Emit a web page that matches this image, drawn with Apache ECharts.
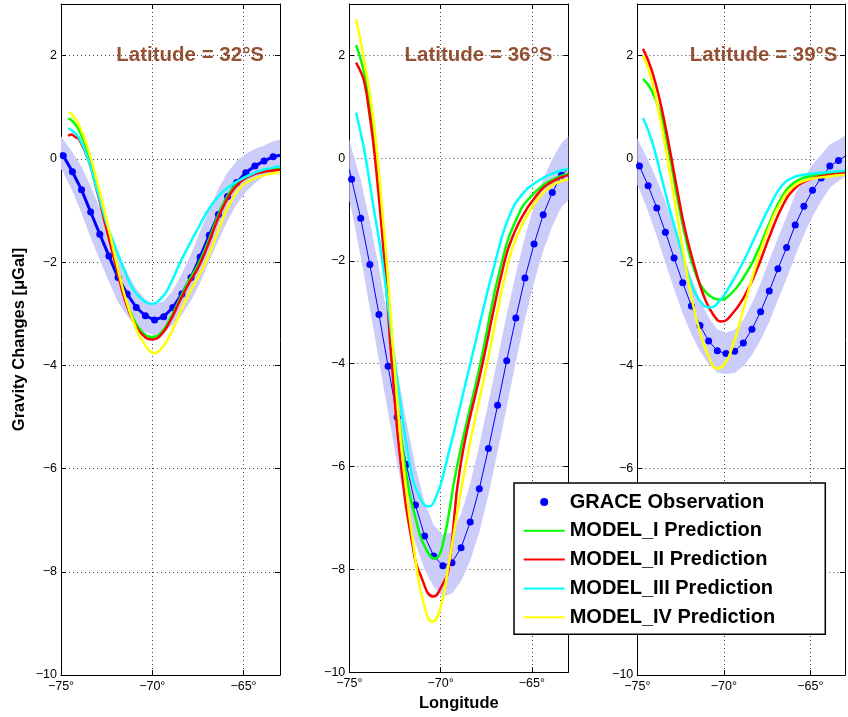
<!DOCTYPE html>
<html><head><meta charset="utf-8">
<script src="https://cdn.jsdelivr.net/npm/echarts@6/dist/echarts.min.js"></script>
<style>html,body{margin:0;padding:0;background:#fff}#c{width:848px;height:717px}</style>
</head><body><div id="c"></div>
<script>
const FONT = '"Liberation Sans", Arial, Helvetica, sans-serif';

// ---- tick labels / categories ----
const panelLatitudes = ['32°S', '36°S', '39°S'];
const xTicks = [-75, -70, -65];
const yTicks = [-10, -8, -6, -4, -2, 0, 2];
const seriesNames = ['GRACE Observation', 'MODEL_I Prediction', 'MODEL_II Prediction', 'MODEL_III Prediction', 'MODEL_IV Prediction'];
const xEdges = [-75, -63];

// ---- GRACE observations (longitude, value) ----
const obsLon = [-74.875, -74.375, -73.875, -73.375, -72.875, -72.375, -71.875, -71.375, -70.875, -70.375, -69.875, -69.375,
                -68.875, -68.375, -67.875, -67.375, -66.875, -66.375, -65.875, -65.375, -64.875, -64.375, -63.875, -63.375];
const obs32 = [0.06, -0.25, -0.60, -1.03, -1.46, -1.88, -2.30, -2.62, -2.88, -3.04, -3.12, -3.06,
               -2.88, -2.62, -2.30, -1.90, -1.48, -1.08, -0.73, -0.46, -0.27, -0.14, -0.04, 0.04];
const obs36 = [-0.41, -1.17, -2.07, -3.04, -4.05, -5.04, -5.96, -6.75, -7.35, -7.74, -7.93, -7.87,
               -7.58, -7.08, -6.43, -5.65, -4.81, -3.94, -3.11, -2.33, -1.67, -1.10, -0.67, -0.33];
const obs39 = [-0.14, -0.52, -0.95, -1.42, -1.92, -2.40, -2.85, -3.23, -3.53, -3.72, -3.77, -3.73,
               -3.57, -3.30, -2.96, -2.56, -2.13, -1.72, -1.28, -0.92, -0.61, -0.37, -0.14, -0.03];
// observation line values where it meets the left / right frame
const obsEdge32 = [0.12, 0.07];
const obsEdge36 = [-0.22, -0.20];
const obsEdge39 = [-0.05, 0.05];
// observation uncertainty (half height of the shaded band at each observation)
const sig32 = [0.32, 0.38, 0.45, 0.50, 0.50, 0.50, 0.48, 0.42, 0.36, 0.32, 0.30, 0.30,
               0.33, 0.40, 0.45, 0.50, 0.50, 0.50, 0.47, 0.42, 0.37, 0.33, 0.30, 0.30];
const sig36 = [0.60, 0.75, 0.85, 0.90, 0.90, 0.90, 0.85, 0.75, 0.65, 0.60, 0.60, 0.60,
               0.65, 0.75, 0.85, 0.90, 0.90, 0.90, 0.85, 0.80, 0.75, 0.70, 0.65, 0.62];
const sig39 = [0.45, 0.50, 0.55, 0.60, 0.60, 0.60, 0.55, 0.50, 0.45, 0.42, 0.40, 0.42,
               0.45, 0.50, 0.55, 0.60, 0.60, 0.60, 0.60, 0.55, 0.50, 0.45, 0.42, 0.40];

// ---- model predictions, [longitude, value] ----
const m1_32 = [[-74.6,0.78],[-74.4,0.74],[-74.0,0.55],[-73.5,0.08],[-73.0,-0.57],[-72.5,-1.31],[-72.0,-2.05],[-71.5,-2.70],[-71.0,-3.12],[-70.5,-3.37],[-70.0,-3.45],[-69.5,-3.36],[-69.0,-3.08],[-68.5,-2.72],[-68.0,-2.37],[-67.5,-2.06],[-67.0,-1.66],[-66.5,-1.20],[-66.0,-0.80],[-65.5,-0.53],[-65.0,-0.37],[-64.5,-0.29],[-64.0,-0.24],[-63.5,-0.21],[-63.0,-0.19]];
const m2_32 = [[-74.6,0.44],[-74.45,0.47],[-74.2,0.42],[-74.0,0.37],[-73.5,-0.02],[-73.0,-0.66],[-72.5,-1.37],[-72.0,-2.05],[-71.5,-2.73],[-71.0,-3.17],[-70.5,-3.42],[-70.0,-3.50],[-69.5,-3.40],[-69.0,-3.13],[-68.5,-2.76],[-68.0,-2.42],[-67.5,-2.12],[-67.0,-1.72],[-66.5,-1.25],[-66.0,-0.85],[-65.5,-0.57],[-65.0,-0.40],[-64.5,-0.31],[-64.0,-0.26],[-63.5,-0.23],[-63.0,-0.21]];
const m3_32 = [[-74.6,0.59],[-74.4,0.55],[-74.0,0.40],[-73.5,-0.02],[-73.0,-0.63],[-72.5,-1.25],[-72.0,-1.73],[-71.5,-2.18],[-71.0,-2.55],[-70.5,-2.74],[-70.1,-2.81],[-69.5,-2.70],[-69.0,-2.42],[-68.5,-2.03],[-68.0,-1.68],[-67.5,-1.35],[-67.0,-1.03],[-66.5,-0.78],[-66.0,-0.60],[-65.5,-0.47],[-65.0,-0.37],[-64.5,-0.29],[-64.0,-0.22],[-63.5,-0.18],[-63.0,-0.14]];
const m4_32 = [[-74.6,0.90],[-74.4,0.86],[-74.0,0.64],[-73.5,0.17],[-73.0,-0.47],[-72.5,-1.18],[-72.0,-1.95],[-71.5,-2.66],[-71.0,-3.18],[-70.5,-3.55],[-69.85,-3.76],[-69.5,-3.68],[-69.0,-3.40],[-68.5,-3.00],[-68.0,-2.62],[-67.5,-2.30],[-67.0,-1.95],[-66.5,-1.50],[-66.0,-1.05],[-65.5,-0.72],[-65.0,-0.50],[-64.5,-0.40],[-64.0,-0.33],[-63.5,-0.29],[-63.0,-0.26]];

const m1_36 = [[-74.63,2.20],[-74.4,1.95],[-74.08,1.5],[-73.86,1.0],[-73.5,0.0],[-73.02,-2.0],[-72.58,-4.0],[-71.94,-6.0],[-71.3,-7.1],[-70.8,-7.6],[-70.33,-7.79],[-69.9,-7.55],[-69.1,-6.0],[-67.82,-4.0],[-66.63,-2.0],[-65.6,-1.0],[-65.0,-0.73],[-64.5,-0.56],[-64.0,-0.44],[-63.5,-0.36],[-63.0,-0.30]];
const m2_36 = [[-74.63,1.86],[-74.4,1.7],[-74.19,1.5],[-73.95,1.0],[-73.59,0.0],[-73.08,-2.0],[-72.67,-4.0],[-72.16,-6.0],[-71.5,-7.6],[-71.11,-8.1],[-70.38,-8.53],[-69.9,-8.3],[-69.56,-8.0],[-68.92,-6.0],[-67.7,-4.0],[-66.49,-2.0],[-65.9,-1.4],[-65.3,-1.0],[-65.0,-0.85],[-64.5,-0.62],[-64.0,-0.48],[-63.5,-0.39],[-63.0,-0.33]];
const m3_36 = [[-74.63,0.89],[-74.35,0.45],[-74.1,0.0],[-73.65,-1.0],[-73.19,-2.0],[-72.49,-4.0],[-71.66,-6.0],[-71.2,-6.55],[-70.66,-6.78],[-70.2,-6.55],[-69.74,-6.0],[-68.37,-4.0],[-66.99,-2.0],[-66.08,-1.0],[-65.35,-0.63],[-65.0,-0.53],[-64.5,-0.41],[-64.0,-0.32],[-63.5,-0.25],[-63.0,-0.20]];
const m4_36 = [[-74.63,2.70],[-74.23,2.0],[-73.77,1.0],[-73.45,0.0],[-73.2,-1.0],[-72.95,-2.0],[-72.53,-4.0],[-72.03,-6.0],[-71.3,-8.0],[-70.9,-8.7],[-70.44,-9.02],[-70.0,-8.75],[-69.6,-8.0],[-68.64,-6.0],[-67.45,-4.0],[-66.27,-2.0],[-65.6,-1.35],[-65.07,-1.0],[-64.5,-0.72],[-64.0,-0.56],[-63.5,-0.46],[-63.0,-0.41]];

const m1_39 = [[-74.67,1.55],[-74.16,1.32],[-73.61,0.81],[-73.15,0.10],[-72.69,-0.75],[-72.23,-1.50],[-71.68,-2.18],[-71.13,-2.55],[-70.59,-2.70],[-70.22,-2.73],[-69.58,-2.61],[-68.84,-2.29],[-68.11,-1.84],[-67.38,-1.26],[-66.65,-0.74],[-65.93,-0.46],[-65.2,-0.35],[-64.45,-0.30],[-63.42,-0.26],[-63.0,-0.25]];
const m2_39 = [[-74.67,2.13],[-74.16,1.71],[-73.61,1.0],[-73.15,0.23],[-72.69,-0.61],[-72.23,-1.39],[-71.68,-2.10],[-71.13,-2.68],[-70.59,-3.03],[-70.13,-3.15],[-69.58,-3.03],[-68.84,-2.68],[-68.11,-2.16],[-67.38,-1.52],[-66.65,-0.94],[-65.93,-0.58],[-65.2,-0.42],[-64.45,-0.34],[-63.42,-0.29],[-63.0,-0.27]];
const m3_39 = [[-74.67,0.79],[-74.16,0.35],[-73.61,-0.35],[-73.06,-1.06],[-72.51,-1.71],[-71.96,-2.35],[-71.41,-2.74],[-70.82,-2.88],[-70.22,-2.74],[-69.58,-2.42],[-68.84,-1.97],[-68.11,-1.45],[-67.38,-0.94],[-66.65,-0.52],[-65.93,-0.35],[-65.2,-0.30],[-64.45,-0.27],[-63.42,-0.24],[-63.0,-0.23]];
const m4_39 = [[-74.67,2.0],[-74.16,1.52],[-73.7,0.81],[-73.24,-0.03],[-72.78,-0.94],[-72.33,-1.84],[-71.87,-2.68],[-71.41,-3.32],[-70.86,-3.84],[-70.4,-4.06],[-69.94,-3.97],[-69.39,-3.52],[-68.84,-2.87],[-68.11,-2.03],[-67.38,-1.32],[-66.65,-0.81],[-65.93,-0.52],[-65.2,-0.41],[-64.45,-0.36],[-63.42,-0.32],[-63.0,-0.31]];

// ---- assemble ----
const panels = [
  { lat: panelLatitudes[0], obs: obs32, edge: obsEdge32, sig: sig32, models: [m1_32, m2_32, m3_32, m4_32], obsWidth: 3 },
  { lat: panelLatitudes[1], obs: obs36, edge: obsEdge36, sig: sig36, models: [m1_36, m2_36, m3_36, m4_36], obsWidth: 1 },
  { lat: panelLatitudes[2], obs: obs39, edge: obsEdge39, sig: sig39, models: [m1_39, m2_39, m3_39, m4_39], obsWidth: 1 }
];
const modelColors = ['#00FF00', '#FF0000', '#00FFFF', '#FFFF00'];
const OBS_COLOR = '#0000FF';
const BAND_COLOR = 'rgb(204,204,250)';
const gridLefts = [61, 349.3, 637.3];

function tickFmt(list, unit) {
  return function (v) {
    if (list.indexOf(Math.round(v * 1000) / 1000) < 0) return '';
    return (v < 0 ? '\u2212' : '') + Math.abs(v) + unit;
  };
}

const grids = [], xAxes = [], yAxes = [], series = [];
const axisLineStyle = { color: '#000', width: 1 };
const gridLine = { show: true, showMinLine: false, showMaxLine: false, lineStyle: { color: '#444', type: [1, 3], width: 1 } };

panels.forEach((p, i) => {
  grids.push({ left: gridLefts[i], top: 4, width: 219, height: 671, containLabel: false });
  const bx = {
    gridIndex: i, type: 'value', min: -75, max: -63, interval: 5, position: 'bottom',
    axisLine: { show: true, onZero: false, lineStyle: axisLineStyle },
    axisTick: { show: true, inside: true, length: 5, lineStyle: axisLineStyle },
    axisLabel: { show: true, margin: 5, fontSize: 12.5, color: '#000', fontFamily: FONT, formatter: tickFmt(xTicks, '°') },
    splitLine: gridLine
  };
  if (i === 1) {
    bx.name = 'Longitude'; bx.nameLocation = 'middle'; bx.nameGap = 21;
    bx.nameTextStyle = { fontSize: 16.5, fontWeight: 'bold', color: '#000', fontFamily: FONT };
  }
  xAxes.push(bx);
  xAxes.push({
    gridIndex: i, type: 'value', min: -75, max: -63, interval: 5, position: 'top',
    axisLine: { show: true, onZero: false, lineStyle: axisLineStyle },
    axisTick: { show: true, inside: true, length: 5, lineStyle: axisLineStyle },
    axisLabel: { show: false }, splitLine: { show: false }
  });
  const ly = {
    gridIndex: i, type: 'value', min: -10, max: 3, interval: 2, position: 'left',
    axisLine: { show: true, onZero: false, lineStyle: axisLineStyle },
    axisTick: { show: true, inside: true, length: 5, lineStyle: axisLineStyle },
    axisLabel: { show: true, margin: 4, fontSize: 12.5, color: '#000', fontFamily: FONT, formatter: tickFmt(yTicks, '') },
    splitLine: gridLine
  };
  if (i === 0) {
    ly.name = 'Gravity Changes [\u03BCGal]'; ly.nameLocation = 'middle'; ly.nameRotate = 90; ly.nameGap = 33;
    ly.nameTextStyle = { fontSize: 16.5, fontWeight: 'bold', color: '#000', fontFamily: FONT };
  }
  yAxes.push(ly);
  yAxes.push({
    gridIndex: i, type: 'value', min: -10, max: 3, interval: 2, position: 'right',
    axisLine: { show: true, onZero: false, lineStyle: axisLineStyle },
    axisTick: { show: true, inside: true, length: 5, lineStyle: axisLineStyle },
    axisLabel: { show: false }, splitLine: { show: false }
  });

  const xi = 2 * i, yi = 2 * i;
  const n = obsLon.length;
  // full observation profile including the frame edges
  const lonFull = [xEdges[0]].concat(obsLon, [xEdges[1]]);
  const valFull = [p.edge[0]].concat(p.obs, [p.edge[1]]);
  const sigFull = [p.sig[0]].concat(p.sig, [p.sig[n - 1]]);
  // uncertainty band: polygon through obs +/- sigma, placed via the axes
  series.push({
    name: 'band-' + i, type: 'custom', xAxisIndex: xi, yAxisIndex: yi, silent: true, z: 1, clip: true,
    data: lonFull.map((x, k) => [x, valFull[k]]), encode: { x: 0, y: 1 },
    renderItem: function (params, api) {
      if (params.dataIndex !== 0) return null;
      const pts = [];
      for (let k = 0; k < lonFull.length; k++) pts.push(api.coord([lonFull[k], valFull[k] + sigFull[k]]));
      for (let k = lonFull.length - 1; k >= 0; k--) pts.push(api.coord([lonFull[k], valFull[k] - sigFull[k]]));
      return { type: 'polygon', shape: { points: pts }, style: { fill: BAND_COLOR, stroke: null } };
    }
  });
  // observations (edge points carry the line only, no marker)
  const obsData = lonFull.map((x, k) => {
    const item = { value: [x, valFull[k]] };
    if (k === 0 || k === lonFull.length - 1) item.symbol = 'none';
    return item;
  });
  series.push({
    name: seriesNames[0], type: 'line', xAxisIndex: xi, yAxisIndex: yi,
    data: obsData, symbol: 'circle', symbolSize: 7, showAllSymbol: true,
    lineStyle: { color: OBS_COLOR, width: p.obsWidth }, itemStyle: { color: OBS_COLOR }, silent: true, z: 2
  });
  // models
  p.models.forEach((m, j) => {
    series.push({
      name: seriesNames[j + 1], type: 'line', xAxisIndex: xi, yAxisIndex: yi,
      data: m, symbol: 'none', smooth: 0.5,
      lineStyle: { color: modelColors[j], width: 2.5 }, itemStyle: { color: modelColors[j] }, silent: true, z: 3
    });
  });
  // panel annotation
  series.push({
    name: 'title-' + i, type: 'scatter', xAxisIndex: xi, yAxisIndex: yi,
    data: [[-72, 2]], symbolSize: 1, itemStyle: { color: 'rgba(0,0,0,0)' }, silent: true, z: 5,
    label: { show: true, position: 'right', distance: 0, formatter: 'Latitude = ' + p.lat,
             fontSize: 20.5, fontWeight: 'bold', color: '#7a2600', fontFamily: FONT }
  });
});

const chart = echarts.init(document.getElementById('c'), null, { renderer: 'canvas' });
chart.setOption({
  animation: false,
  backgroundColor: '#fff',
  grid: grids, xAxis: xAxes, yAxis: yAxes, series: series,
  legend: {
    orient: 'vertical', left: 514, top: 483,
    itemWidth: 41, itemHeight: 14, itemGap: 8.8,
    padding: [9, 50, 7, 8.7],
    backgroundColor: '#fff', borderColor: '#000', borderWidth: 1.5, borderRadius: 0,
    selectedMode: false,
    textStyle: { fontFamily: FONT, fontSize: 20, fontWeight: 'bold', color: '#000', lineHeight: 20 },
    data: [
      { name: seriesNames[0], icon: 'path://M0,0M41,14M16.5,7A4,4 0 1 1 24.5,7A4,4 0 1 1 16.5,7Z' },
      { name: seriesNames[1], itemStyle: { opacity: 0 } },
      { name: seriesNames[2], itemStyle: { opacity: 0 } },
      { name: seriesNames[3], itemStyle: { opacity: 0 } },
      { name: seriesNames[4], itemStyle: { opacity: 0 } }
    ]
  }
});
</script>
</body></html>
